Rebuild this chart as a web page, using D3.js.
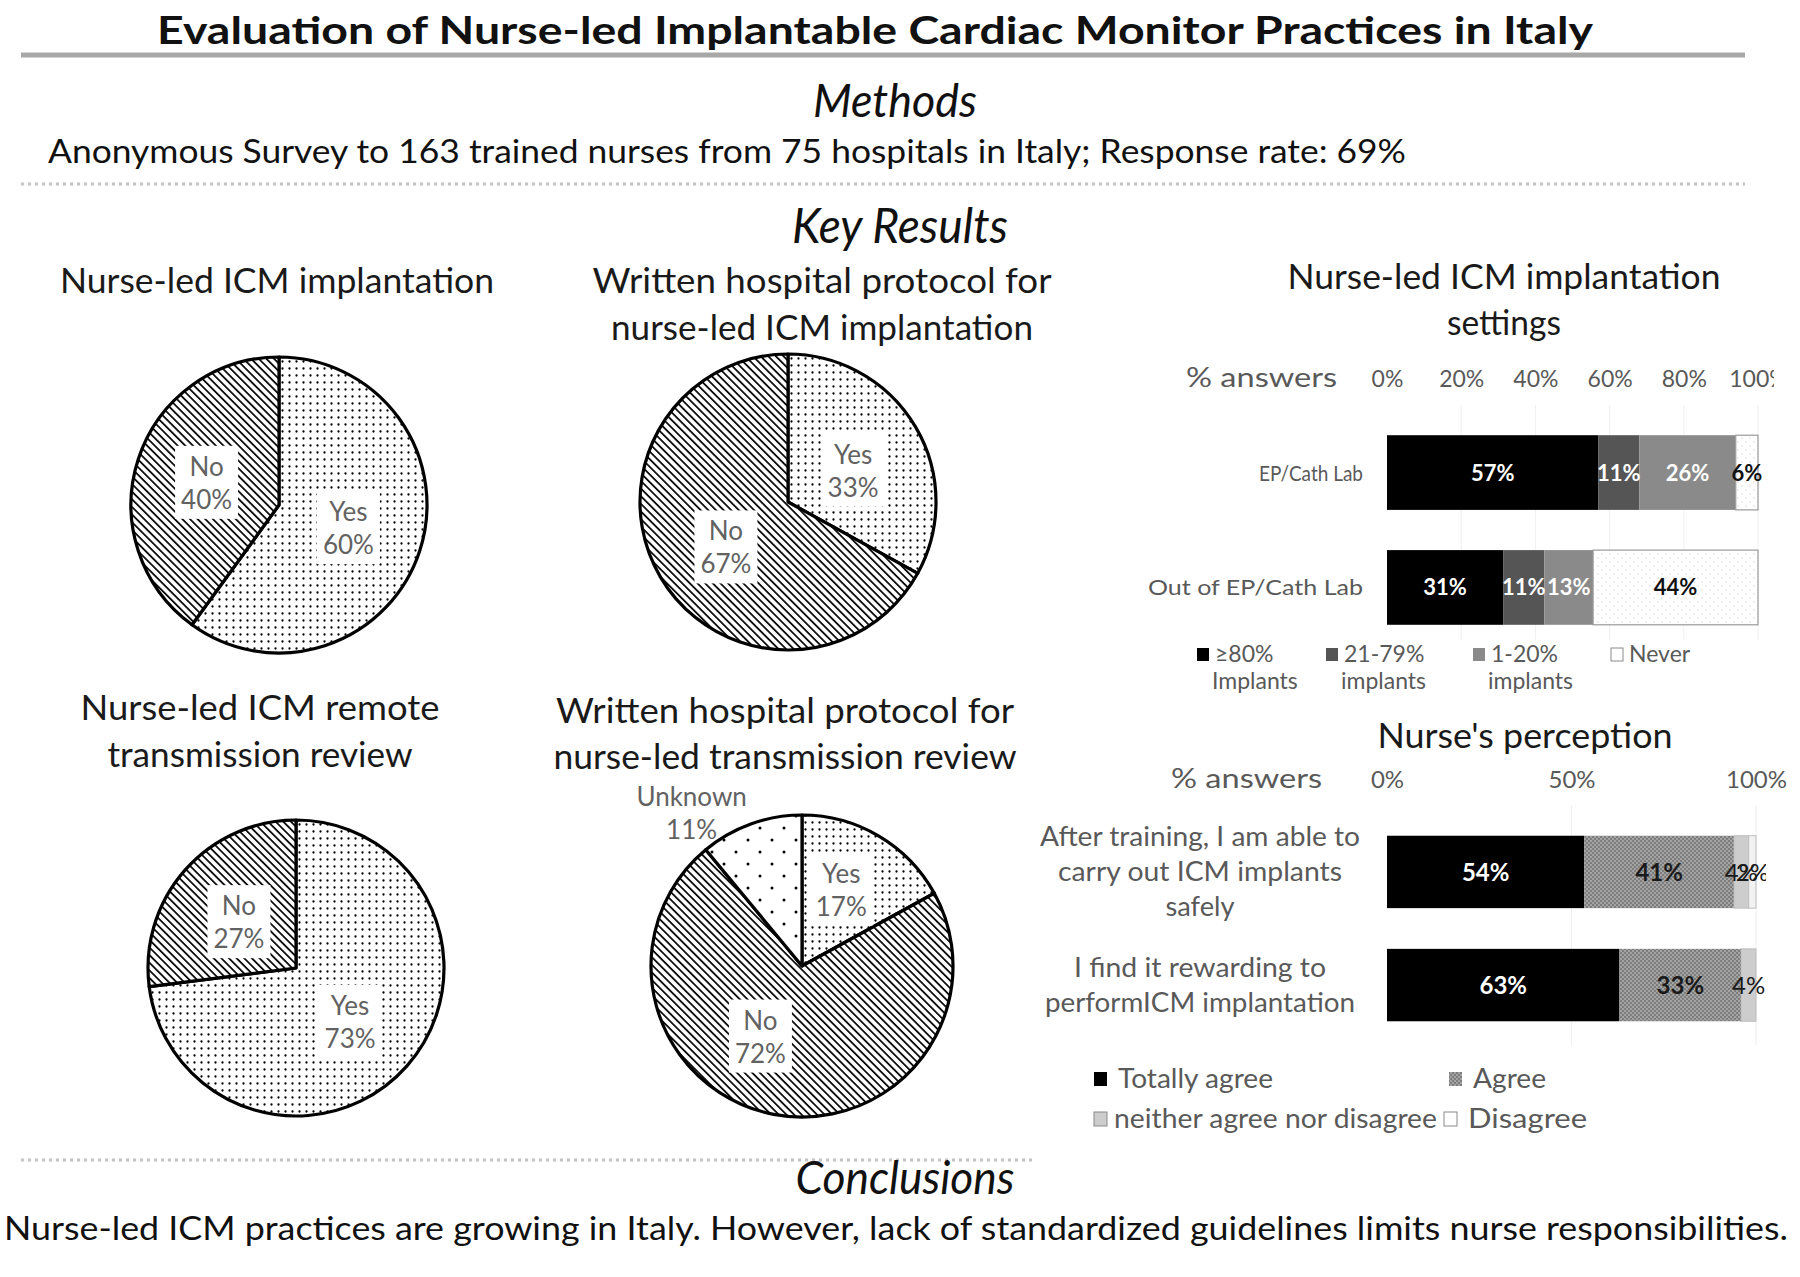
<!DOCTYPE html>
<html><head><meta charset="utf-8">
<script src="https://cdn.jsdelivr.net/npm/d3@7"></script>
<style>
html,body{margin:0;padding:0;background:#fff;}
svg{display:block;}
text{font-family: Lato, "Open Sans", sans-serif;}
</style></head><body>
<svg id="chart" width="1800" height="1277"></svg>
<script>
// ---------------- DATA ----------------
const mainTitle = "Evaluation of Nurse-led Implantable Cardiac Monitor Practices in Italy";
const methodsText = "Anonymous Survey to 163 trained nurses from 75 hospitals in Italy; Response rate: 69%";
const conclusionText = "Nurse-led ICM practices are growing in Italy. However, lack of standardized guidelines limits nurse responsibilities.";

const pie1Title = ["Nurse-led ICM implantation"];
const pie1Labels = ["Yes", "No"];
const pie1Values = [60, 40];

const pie2Title = ["Written hospital protocol for", "nurse-led ICM implantation"];
const pie2Labels = ["Yes", "No"];
const pie2Values = [33, 67];

const pie3Title = ["Nurse-led ICM remote", "transmission review"];
const pie3Labels = ["Yes", "No"];
const pie3Values = [73, 27];

const pie4Title = ["Written hospital protocol for", "nurse-led transmission review"];
const pie4Labels = ["Yes", "No", "Unknown"];
const pie4Values = [17, 72, 11];

const settingsTitle = ["Nurse-led ICM implantation", "settings"];
const settingsCategories = ["EP/Cath Lab", "Out of EP/Cath Lab"];
const settingsSeries = ["≥80% Implants", "21-79% implants", "1-20% implants", "Never"];
const settingsHigh = [57, 31];
const settingsMid = [11, 11];
const settingsLow = [26, 13];
const settingsNever = [6, 44];
const settingsTicks = ["0%", "20%", "40%", "60%", "80%", "100%"];

const perceptionTitle = "Nurse's perception";
const perceptionCategories = [["After training, I am able to", "carry out ICM implants", "safely"], ["I find it rewarding to", "performICM implantation"]];
const perceptionSeries = ["Totally agree", "Agree", "neither agree nor disagree", "Disagree"];
const totallyAgree = [54, 63];
const agree = [41, 33];
const neitherAgree = [4, 4];
const disagree = [2, 0];
const perceptionTicks = ["0%", "50%", "100%"];

// ---------------- DRAWING ----------------
const svg = d3.select("#chart");
svg.append("rect").attr("width", 1800).attr("height", 1277).attr("fill", "#fff");
const GRAY = "#595959";
const fit = (sel, w) => sel.attr("textLength", w).attr("lengthAdjust", "spacingAndGlyphs");

const defs = svg.append("defs");
{
  const p = defs.append("pattern").attr("id", "dotsDense").attr("patternUnits", "userSpaceOnUse").attr("width", 7).attr("height", 7);
  p.append("rect").attr("width", 7).attr("height", 7).attr("fill", "#fff");
  p.append("circle").attr("cx", 3.5).attr("cy", 3.5).attr("r", 1.15).attr("fill", "#000");
}
{
  const p = defs.append("pattern").attr("id", "dotsSparse").attr("patternUnits", "userSpaceOnUse").attr("width", 24).attr("height", 24);
  p.append("rect").attr("width", 24).attr("height", 24).attr("fill", "#fff");
  [[6, 6], [18, 18]].forEach(([x, y]) => p.append("circle").attr("cx", x).attr("cy", y).attr("r", 1.5).attr("fill", "#000"));
}
{
  const p = defs.append("pattern").attr("id", "hatch").attr("patternUnits", "userSpaceOnUse").attr("width", 5.4).attr("height", 10)
    .attr("patternTransform", "rotate(-45)");
  p.append("rect").attr("width", 5.4).attr("height", 10).attr("fill", "#fff");
  p.append("line").attr("x1", 2.7).attr("x2", 2.7).attr("y1", -1).attr("y2", 11).attr("stroke", "#000").attr("stroke-width", 1.7);
}
{
  const p = defs.append("pattern").attr("id", "neverPat").attr("patternUnits", "userSpaceOnUse").attr("width", 8).attr("height", 8);
  p.append("rect").attr("width", 8).attr("height", 8).attr("fill", "#fff");
  p.append("circle").attr("cx", 2).attr("cy", 2).attr("r", 0.9).attr("fill", "#e6e6e6");
  p.append("circle").attr("cx", 6).attr("cy", 6).attr("r", 0.9).attr("fill", "#e6e6e6");
}
{
  const p = defs.append("pattern").attr("id", "agreePat").attr("patternUnits", "userSpaceOnUse").attr("width", 4).attr("height", 4);
  p.append("rect").attr("width", 4).attr("height", 4).attr("fill", "#a3a3a3");
  p.append("rect").attr("width", 2).attr("height", 2).attr("fill", "#7d7d7d");
  p.append("rect").attr("x", 2).attr("y", 2).attr("width", 2).attr("height", 2).attr("fill", "#7d7d7d");
}
defs.append("clipPath").attr("id", "clipTop").attr("clipPathUnits", "userSpaceOnUse")
  .append("rect").attr("x", -100).attr("y", -2000).attr("width", 1874).attr("height", 4000);
defs.append("clipPath").attr("id", "clipBot").attr("clipPathUnits", "userSpaceOnUse")
  .append("rect").attr("x", -100).attr("y", -2000).attr("width", 1866).attr("height", 4000);

// ---- header ----
fit(svg.append("text").attr("x", 875).attr("y", 44).attr("text-anchor", "middle")
  .attr("font-size", 38).attr("font-weight", 700).attr("fill", "#111").text(mainTitle), 1436);
svg.append("line").attr("x1", 21).attr("x2", 1745).attr("y1", 55).attr("y2", 55).attr("stroke", "#a8a8a8").attr("stroke-width", 5);

fit(svg.append("text").attr("x", 895).attr("y", 117).attr("text-anchor", "middle")
  .attr("font-size", 46).attr("font-style", "italic").attr("fill", "#111").text("Methods"), 164);
fit(svg.append("text").attr("x", 48).attr("y", 163)
  .attr("font-size", 32).attr("fill", "#111").text(methodsText), 1358);
svg.append("line").attr("x1", 21).attr("x2", 1745).attr("y1", 184).attr("y2", 184)
  .attr("stroke", "#c4c4c4").attr("stroke-width", 3).attr("stroke-dasharray", "3,4");
fit(svg.append("text").attr("x", 900).attr("y", 243).attr("text-anchor", "middle")
  .attr("font-size", 48).attr("font-style", "italic").attr("fill", "#111").text("Key Results"), 216);

// ---- footer ----
svg.append("line").attr("x1", 21).attr("x2", 1033).attr("y1", 1160).attr("y2", 1160)
  .attr("stroke", "#c4c4c4").attr("stroke-width", 3).attr("stroke-dasharray", "3,4");
fit(svg.append("text").attr("x", 905).attr("y", 1194).attr("text-anchor", "middle")
  .attr("font-size", 46).attr("font-style", "italic").attr("fill", "#111").text("Conclusions"), 219);
fit(svg.append("text").attr("x", 4).attr("y", 1240)
  .attr("font-size", 32).attr("fill", "#111").text(conclusionText), 1784);

// ---- pies ----
const fillFor = { "Yes": "url(#dotsDense)", "No": "url(#hatch)", "Unknown": "url(#dotsSparse)" };
const pies = [
  { title: pie1Title, labels: pie1Labels, values: pie1Values, cx: 279, cy: 505, r: 148,
    tx: 277, ty: [293], tw: [434], off: [[-8, -3], [5, 2]] },
  { title: pie2Title, labels: pie2Labels, values: pie2Values, cx: 788, cy: 502, r: 148,
    tx: 822, ty: [293, 340], tw: [459, 422], off: [[-5, 9], [8, 3]] },
  { title: pie3Title, labels: pie3Labels, values: pie3Values, cx: 296, cy: 968, r: 148,
    tx: 260, ty: [720, 767], tw: [359, 305], off: [[-7, -1], [4, 7]] },
  { title: pie4Title, labels: pie4Labels, values: pie4Values, cx: 802, cy: 966, r: 151,
    tx: 785, ty: [723, 769], tw: [458, 463], off: [[-3, -6], [-26, -12], [-49, 16]], outside: [false, false, true] }
];
const pieGen = d3.pie().sort(null).value(d => d.v);
pies.forEach(p => {
  p.title.forEach((t, i) => {
    fit(svg.append("text").attr("x", p.tx).attr("y", p.ty[i]).attr("text-anchor", "middle")
      .attr("font-size", 34).attr("fill", "#1a1a1a").text(t), p.tw[i]);
  });
  const data = p.labels.map((l, i) => ({ l, v: p.values[i] }));
  const arcs = pieGen(data);
  const arc = d3.arc().innerRadius(0).outerRadius(p.r);
  const g = svg.append("g").attr("transform", `translate(${p.cx},${p.cy})`);
  g.selectAll("path").data(arcs).join("path")
    .attr("d", arc).attr("fill", d => fillFor[d.data.l])
    .attr("stroke", "#000").attr("stroke-width", 3.2).attr("stroke-linejoin", "round");
  arcs.forEach((d, i) => {
    const out = p.outside && p.outside[i];
    const k = p.r * (out ? 1.2 : 0.55);
    const c = d3.arc().innerRadius(k).outerRadius(k).centroid(d);
    const x = c[0] + p.off[i][0], y = c[1] + p.off[i][1];
    const lg = g.append("g").attr("transform", `translate(${x},${y})`);
    const bg = lg.append("rect").attr("fill", "#fff");
    const t = lg.append("text").attr("text-anchor", "middle").attr("font-size", 26).attr("fill", "#626262");
    t.append("tspan").attr("x", 0).attr("y", -6).text(d.data.l);
    t.append("tspan").attr("x", 0).attr("y", 27).text(d.data.v + "%");
    if (!out) {
      const bb = t.node().getBBox();
      bg.attr("x", bb.x - 6).attr("y", bb.y - 4).attr("width", bb.width + 12).attr("height", bb.height + 8);
    }
  });
});

// ---- settings stacked bar ----
{
  fit(svg.append("text").attr("x", 1504).attr("y", 289).attr("text-anchor", "middle").attr("font-size", 34).attr("fill", "#1a1a1a").text(settingsTitle[0]), 433);
  fit(svg.append("text").attr("x", 1504).attr("y", 335).attr("text-anchor", "middle").attr("font-size", 34).attr("fill", "#1a1a1a").text(settingsTitle[1]), 114);

  const keys = settingsSeries;
  const rows = settingsCategories.map((c, i) => ({ cat: c, [keys[0]]: settingsHigh[i], [keys[1]]: settingsMid[i], [keys[2]]: settingsLow[i], [keys[3]]: settingsNever[i] }));
  const stack = d3.stack().keys(keys).offset(d3.stackOffsetExpand)(rows);
  const x = d3.scaleLinear().domain([0, 1]).range([1387, 1758]);
  const y = d3.scaleBand().domain(settingsCategories).range([395, 665]).paddingInner(0.35).paddingOuter(0.35);
  const fills = ["#000", "#555", "#8a8a8a", "url(#neverPat)"];
  const textCol = ["#fff", "#fff", "#fff", "#111"];
  const tv = settingsTicks.map((_, i) => i / (settingsTicks.length - 1));

  svg.append("g").selectAll("line").data(tv.slice(1)).join("line")
    .attr("x1", d => x(d)).attr("x2", d => x(d)).attr("y1", 405).attr("y2", 640).attr("stroke", "#f0f0f0").attr("stroke-width", 1);

  const axWrap = svg.append("g").attr("clip-path", "url(#clipTop)");
  const ax = axWrap.append("g").attr("transform", "translate(0,396)")
    .call(d3.axisTop(x).tickValues(tv).tickFormat((d, i) => settingsTicks[i]).tickSize(0).tickPadding(9));
  ax.select(".domain").remove();
  ax.selectAll("text").attr("font-size", 23).attr("fill", GRAY).attr("font-family", "Lato, sans-serif");
  fit(svg.append("text").attr("x", 1337).attr("y", 387).attr("text-anchor", "end").attr("font-size", 27).attr("fill", GRAY).text("% answers"), 151);

  const segG = svg.append("g"), labG = svg.append("g");
  stack.forEach((s, si) => {
    segG.selectAll("rect.s" + si).data(s).join("rect").attr("class", "s" + si)
      .attr("x", d => x(d[0])).attr("width", d => x(d[1]) - x(d[0]))
      .attr("y", d => y(d.data.cat)).attr("height", y.bandwidth())
      .attr("fill", fills[si]).attr("stroke", si === 3 ? "#9a9a9a" : "none").attr("stroke-width", 1.2);
    labG.selectAll("text.s" + si).data(s).join("text").attr("class", "s" + si)
      .attr("x", d => (x(d[0]) + x(d[1])) / 2).attr("y", d => y(d.data.cat) + y.bandwidth() / 2 + 8)
      .attr("text-anchor", "middle").attr("font-size", 22).attr("font-weight", 700).attr("fill", textCol[si])
      .text(d => d.data[s.key] + "%");
  });
  const rowW = [104, 215];
  settingsCategories.forEach((c, i) => {
    fit(svg.append("text").attr("x", 1363).attr("y", y(c) + y.bandwidth() / 2 + 8).attr("text-anchor", "end")
      .attr("font-size", 22).attr("fill", GRAY).text(c), rowW[i]);
  });
  const lx = [1197, 1326, 1473, 1611];
  const lfill = ["#000", "#555", "#8a8a8a", "#fff"];
  settingsSeries.forEach((s, i) => {
    const parts = s.split(" ");
    svg.append("rect").attr("x", lx[i]).attr("y", 648).attr("width", 12).attr("height", 13)
      .attr("fill", lfill[i]).attr("stroke", i === 3 ? "#8a8a8a" : "none");
    svg.append("text").attr("x", lx[i] + 18).attr("y", 662).attr("font-size", 23).attr("fill", GRAY).text(parts[0]);
    if (parts[1]) svg.append("text").attr("x", lx[i] + 15).attr("y", 689).attr("font-size", 23).attr("fill", GRAY).text(parts[1]);
  });
}

// ---- perception stacked bar ----
{
  fit(svg.append("text").attr("x", 1525).attr("y", 748).attr("text-anchor", "middle").attr("font-size", 34).attr("fill", "#1a1a1a").text(perceptionTitle), 295);
  const keys = perceptionSeries;
  const catKeys = perceptionCategories.map(c => c.join(" "));
  const rows = catKeys.map((c, i) => ({ cat: c, [keys[0]]: totallyAgree[i], [keys[1]]: agree[i], [keys[2]]: neitherAgree[i], [keys[3]]: disagree[i] }));
  const stack = d3.stack().keys(keys).offset(d3.stackOffsetExpand)(rows);
  const x = d3.scaleLinear().domain([0, 1]).range([1387, 1756]);
  const y = d3.scaleBand().domain(catKeys).range([795, 1062]).paddingInner(0.36).paddingOuter(0.36);
  const fills = ["#000", "url(#agreePat)", "#cdcdcd", "#f2f2f2"];
  const textCol = ["#fff", "#1a1a1a", "#1a1a1a", "#1a1a1a"];
  const tv = perceptionTicks.map((_, i) => i / (perceptionTicks.length - 1));

  svg.append("g").selectAll("line").data(tv.slice(1)).join("line")
    .attr("x1", d => x(d)).attr("x2", d => x(d)).attr("y1", 805).attr("y2", 1045).attr("stroke", "#f0f0f0").attr("stroke-width", 1);

  const ax = svg.append("g").attr("transform", "translate(0,797)")
    .call(d3.axisTop(x).tickValues(tv).tickFormat((d, i) => perceptionTicks[i]).tickSize(0).tickPadding(9));
  ax.select(".domain").remove();
  ax.selectAll("text").attr("font-size", 24).attr("fill", GRAY).attr("font-family", "Lato, sans-serif");
  fit(svg.append("text").attr("x", 1322).attr("y", 788).attr("text-anchor", "end").attr("font-size", 27).attr("fill", GRAY).text("% answers"), 151);

  const segG = svg.append("g");
  const labG = svg.append("g").attr("clip-path", "url(#clipBot)");
  stack.forEach((s, si) => {
    segG.selectAll("rect.s" + si).data(s).join("rect").attr("class", "s" + si)
      .attr("x", d => x(d[0])).attr("width", d => x(d[1]) - x(d[0]))
      .attr("y", d => y(d.data.cat)).attr("height", y.bandwidth())
      .attr("fill", fills[si]).attr("stroke", si >= 2 ? "#bdbdbd" : "none").attr("stroke-width", 1);
    labG.selectAll("text.s" + si).data(s.filter(d => d.data[s.key] > 0)).join("text").attr("class", "s" + si)
      .attr("x", d => (x(d[0]) + x(d[1])) / 2).attr("y", d => y(d.data.cat) + y.bandwidth() / 2 + 9)
      .attr("text-anchor", "middle").attr("font-size", 24).attr("font-weight", si <= 1 ? 700 : 400).attr("fill", textCol[si])
      .text(d => d.data[s.key] + "%");
  });
  const lineW = [[320, 284, 69], [252, 310]];
  perceptionCategories.forEach((lines, i) => {
    const cy = y(catKeys[i]) + y.bandwidth() / 2;
    lines.forEach((ln, j) => {
      fit(svg.append("text").attr("x", 1200).attr("y", cy + (j - (lines.length - 1) / 2) * 35 + 9)
        .attr("text-anchor", "middle").attr("font-size", 26).attr("fill", GRAY).text(ln), lineW[i][j]);
    });
  });
  const pos = [[1094, 1079], [1449, 1079], [1094, 1119], [1444, 1119]];
  const tw = [155, 73, 323, 119];
  const lfill = ["#000", "url(#agreePat)", "#cdcdcd", "#fff"];
  perceptionSeries.forEach((s, i) => {
    svg.append("rect").attr("x", pos[i][0]).attr("y", pos[i][1] - 7).attr("width", 13).attr("height", 14)
      .attr("fill", lfill[i]).attr("stroke", i >= 2 ? "#8a8a8a" : "none");
    fit(svg.append("text").attr("x", pos[i][0] + (i === 2 ? 20 : 24)).attr("y", pos[i][1] + 9).attr("font-size", 26).attr("fill", GRAY).text(s), tw[i]);
  });
}
</script>
</body></html>
